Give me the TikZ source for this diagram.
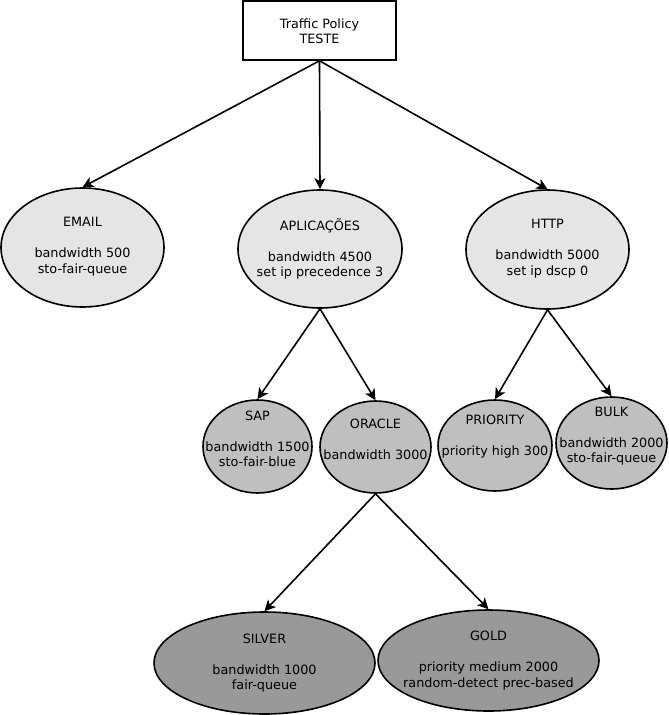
\documentclass[tikz,border=0pt]{standalone}
\usepackage{fontspec}
\setmainfont{DejaVu Sans}
\usetikzlibrary{shapes.geometric,arrows.meta}
\definecolor{lvlA}{HTML}{E5E5E5}
\definecolor{lvlB}{HTML}{BFBFBF}
\definecolor{lvlC}{HTML}{999999}
\tikzset{
  oval/.style={ellipse,draw=black,line width=1.6pt,inner sep=0pt},
  txt/.style={align=center,inner sep=0pt,font=\fontsize{12.8}{15.5}\selectfont},
  conn/.style={line width=1.6pt,-{Stealth[length=11pt,width=11pt,inset=3pt]}}
}
\begin{document}
\begin{tikzpicture}[x=1pt,y=-1pt]
\useasboundingbox (0,0) rectangle (669,715);
\node[draw=black,line width=1.6pt,fill=white,minimum width=153pt,minimum height=59pt,inner sep=0pt] (root) at (319.5,30.5) {};
\node[txt] (roott) at (319.5,31) {Traffic Policy\\TESTE};

\node[oval,fill=lvlA,minimum width=163pt,minimum height=119pt] (email) at (82.5,247.5) {};
\node[txt] (emailt) at (82.5,246.5) {EMAIL\\[15.5pt]bandwidth 500\\sto-fair-queue};

\node[oval,fill=lvlA,minimum width=164pt,minimum height=118pt] (apl) at (320,249) {};
\node[txt] (aplt) at (320,249) {APLICAÇÕES\\[15.5pt]bandwidth 4500\\set ip precedence 3};

\node[oval,fill=lvlA,minimum width=163pt,minimum height=119pt] (http) at (547.5,249.5) {};
\node[txt] (httpt) at (547.5,248.5) {HTTP\\[15.5pt]bandwidth 5000\\set ip dscp 0};

\node[oval,fill=lvlB,minimum width=109pt,minimum height=93pt] (sap) at (257.5,446.5) {};
\node[txt] (sapt) at (257.5,439) {SAP\\[15.5pt]bandwidth 1500\\sto-fair-blue};

\node[oval,fill=lvlB,minimum width=111pt,minimum height=92pt] (oracle) at (375.5,447) {};
\node[txt] (oraclet) at (375.5,439.5) {ORACLE\\[15.5pt]bandwidth 3000};

\node[oval,fill=lvlB,minimum width=114pt,minimum height=91pt] (prio) at (495,445.5) {};
\node[txt] (priot) at (495,437) {PRIORITY\\[15.5pt]priority high 300};

\node[oval,fill=lvlB,minimum width=111pt,minimum height=92pt] (bulk) at (611.5,443) {};
\node[txt] (bulkt) at (611.5,436) {BULK\\[15.5pt]bandwidth 2000\\sto-fair-queue};

\node[oval,fill=lvlC,minimum width=221pt,minimum height=102pt] (silver) at (264.5,663) {};
\node[txt] (silvert) at (264.5,663) {SILVER\\[15.5pt]bandwidth 1000\\fair-queue};

\node[oval,fill=lvlC,minimum width=221pt,minimum height=101pt] (gold) at (488.5,660.5) {};
\node[txt] (goldt) at (488.5,660.5) {GOLD\\[15.5pt]priority medium 2000\\random-detect prec-based};

\draw[conn] (root.south) -- (email.north);
\draw[conn] (root.south) -- (apl.north);
\draw[conn] (root.south) -- (http.north);
\draw[conn] (apl.south) -- (sap.north);
\draw[conn] (apl.south) -- (oracle.north);
\draw[conn] (http.south) -- (prio.north);
\draw[conn] (http.south) -- (bulk.north);
\draw[conn] (oracle.south) -- (silver.north);
\draw[conn] (oracle.south) -- (gold.north);
\end{tikzpicture}
\end{document}
